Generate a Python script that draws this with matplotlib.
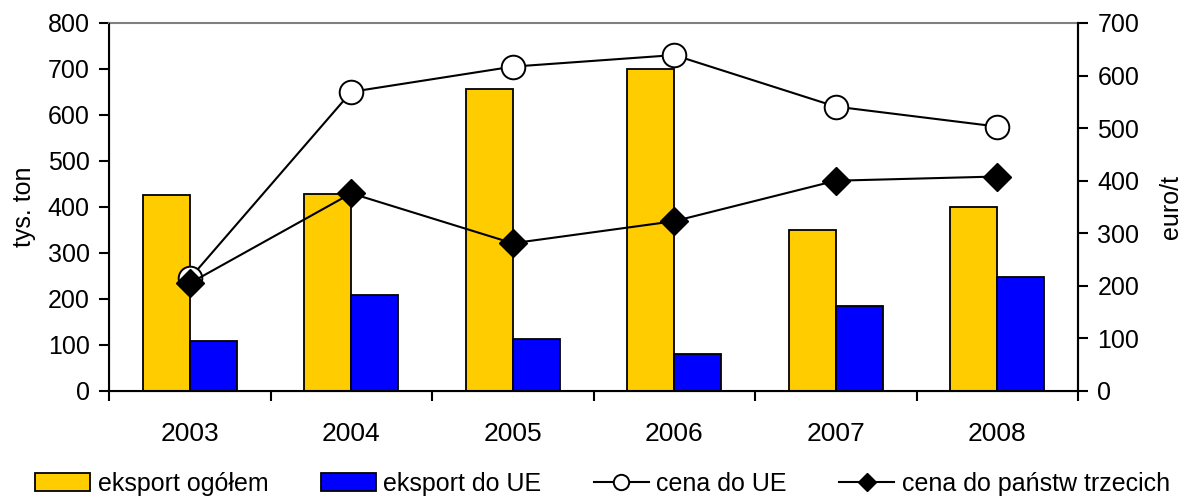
import matplotlib
matplotlib.use("Agg")
import matplotlib.pyplot as plt
import numpy as np

plt.rcParams['font.family'] = ['Liberation Sans', 'DejaVu Sans']

years = ['2003', '2004', '2005', '2006', '2007', '2008']
eksport_ogolem = [427, 429, 657, 700, 349, 401]
eksport_ue = [108, 208, 113, 80, 184, 247]
cena_ue = [214, 569, 617, 639, 541, 503]
cena_trzecie = [205, 376, 281, 323, 400, 408]

fs = 18
fig = plt.figure(figsize=(11.82, 4.97), dpi=100)
ax = fig.add_axes([109/1182, 1-391/497, (1078-109)/1182, (391-23)/497])
x = np.arange(len(years))
w = 0.29

b1 = ax.bar(x - w/2, eksport_ogolem, w, color='#FFCC00', edgecolor='black', linewidth=1.3, label='eksport ogółem')
b2 = ax.bar(x + w/2, eksport_ue, w, color='#0000FF', edgecolor='black', linewidth=1.3, label='eksport do UE')
ax.set_ylim(0, 800)
ax.set_xlim(-0.5, len(years) - 0.5)
ax.set_yticks(range(0, 801, 100))
ax.set_xticks(x)
ax.set_xticklabels(years)
ax.set_xticks(np.arange(-0.5, len(years), 1), minor=True)
ax.tick_params(axis='x', which='major', length=0, pad=22, labelsize=19)
ax.tick_params(axis='x', which='minor', length=7, width=1.5, direction='out')
ax.tick_params(axis='y', length=7, width=1.5, direction='out', labelsize=fs, pad=7)
ax.set_ylabel('tys. ton', fontsize=fs, labelpad=8)
ax.spines['top'].set_color('#808080')
ax.spines['top'].set_linewidth(1.5)
for s in ['left', 'bottom', 'right']:
    ax.spines[s].set_linewidth(1.5)

ax2 = ax.twinx()
l1, = ax2.plot(x, cena_ue, color='black', linewidth=1.5, marker='o', markersize=17,
               markerfacecolor='white', markeredgecolor='black', markeredgewidth=1.4, label='cena do UE')
l2, = ax2.plot(x, cena_trzecie, color='black', linewidth=1.5, marker='D', markersize=14.5,
               markerfacecolor='black', label='cena do państw trzecich')
ax2.set_ylim(0, 700)
ax2.set_yticks(range(0, 701, 100))
ax2.tick_params(axis='y', length=7, width=1.5, direction='out', labelsize=fs, pad=7)
ax2.set_ylabel('euro/t', fontsize=fs, labelpad=14)
ax2.spines['top'].set_visible(False)
ax2.spines['right'].set_linewidth(1.5)

fig.legend([b1, b2, l1, l2], ['eksport ogółem', 'eksport do UE', 'cena do UE', 'cena do państw trzecich'],
           loc='lower left', bbox_to_anchor=(20/1182, -0.028), ncol=4, frameon=False, fontsize=fs,
           handlelength=2.2, handletextpad=0.3, columnspacing=2.1, markerscale=0.65, borderaxespad=0.2)

fig.savefig('out.png', dpi=100)
